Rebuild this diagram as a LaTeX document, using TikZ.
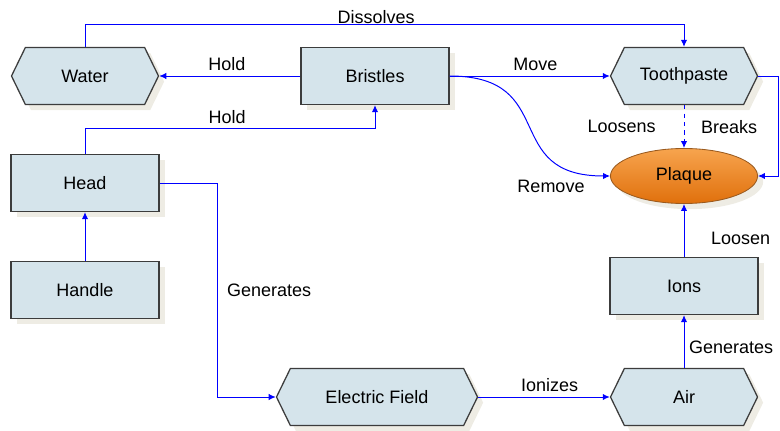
\documentclass[tikz,border=0pt]{standalone}
\usepackage{fontspec}
\setmainfont{Liberation Sans}
\usetikzlibrary{arrows.meta, shapes.symbols, shapes.geometric, shadows}

\definecolor{boxfill}{HTML}{D5E4EB}
\definecolor{boxline}{HTML}{3C3C3C}
\definecolor{linkblue}{HTML}{0000FF}
\definecolor{plaquetop}{HTML}{F7A44E}
\definecolor{plaquebot}{HTML}{E0700C}
\definecolor{plaqueline}{HTML}{9A5A1E}
\definecolor{shade}{HTML}{EEECE4}

\tikzset{
	item/.style = {draw = boxline, line width = 0.9pt, fill = boxfill,
		font = \fontsize{12.8}{14}\selectfont, minimum height = 1.425cm,
		drop shadow = {shadow xshift = 4pt, shadow yshift = -4pt, fill = shade, opacity = 1}},
	block/.style = {item, rectangle, minimum width = 3.7cm},
	hexa/.style = {item, signal, signal to = west and east, signal pointer angle = 128,
		minimum width = 3.675cm},
	blob/.style = {item, ellipse, draw = plaqueline, line width = 0.6pt,
		top color = plaquetop, bottom color = plaquebot,
		minimum width = 3.675cm, minimum height = 1.375cm},
	link/.style = {draw = linkblue, line width = 0.7pt, -{Latex[length = 5pt, width = 4.5pt]}},
	lbl/.style = {font = \fontsize{12.8}{14}\selectfont}
}

\begin{document}
\begin{tikzpicture}[x = 0.025cm, y = -0.025cm]

	\useasboundingbox (0, 0) rectangle (780, 431);

	% Things in the picture

	\node [hexa] (water) at (85, 76) {Water};
	\node [block] (bristles) at (375, 76) {Bristles};
	\node [hexa] (toothpaste) at (684, 76) {Toothpaste};
	\node [block] (head) at (85, 183) {Head};
	\node [block] (handle) at (85, 290) {Handle};
	\node [blob] (plaque) at (684, 176) {Plaque};
	\node [block] (ions) at (684, 286) {Ions};
	\node [hexa, minimum width = 5.025cm] (efield) at (377, 397) {Electric Field};
	\node [hexa] (air) at (684, 397) {Air};

	% Top row

	\draw [link] (water.north) -- ++(0, -22) -| node [lbl, pos = 0.25, above = -3pt, xshift = -6pt] {Dissolves} (toothpaste.north);
	\draw [link] (bristles.west) -- node [lbl, above, xshift = -2pt] {Hold} (water.east);
	\draw [link] (head.north) -- ++(0, -25) -| node [lbl, pos = 0.25, above, xshift = -2pt] {Hold} (bristles.south);
	\draw [link] (bristles.east) -- node [lbl, above, xshift = 4pt] {Move} (toothpaste.west);
	\draw [link] (bristles.east) to [out = 0, in = 180, looseness = 1.5] (plaque.west);
	\node [lbl] at (551, 186) {Remove};

	% Toothpaste on plaque

	\draw [link, dashed] (toothpaste.south) -- node [lbl, left = 0.58cm] {Loosens}
		node [lbl, right = 0.3cm] {Breaks} (plaque.north);
	\draw [link] (toothpaste.east) -- ++(20, 0) |- (plaque.east);

	% Left column and field

	\draw [link] (handle.north) -- (head.south);
	\draw [link] (head.east) -- ++(58, 0) |- node [lbl, pos = 0.25, right = 3pt] {Generates} (efield.west);
	\draw [link] (efield.east) -- node [lbl, above, xshift = 4pt] {Ionizes} (air.west);

	% Right column

	\draw [link] (air.north) -- node [lbl, right, yshift = -4pt] {Generates} (ions.south);
	\draw [link] (ions.north) -- node [lbl, right = 0.55cm, yshift = -6pt] {Loosen} (plaque.south);

\end{tikzpicture}
\end{document}
